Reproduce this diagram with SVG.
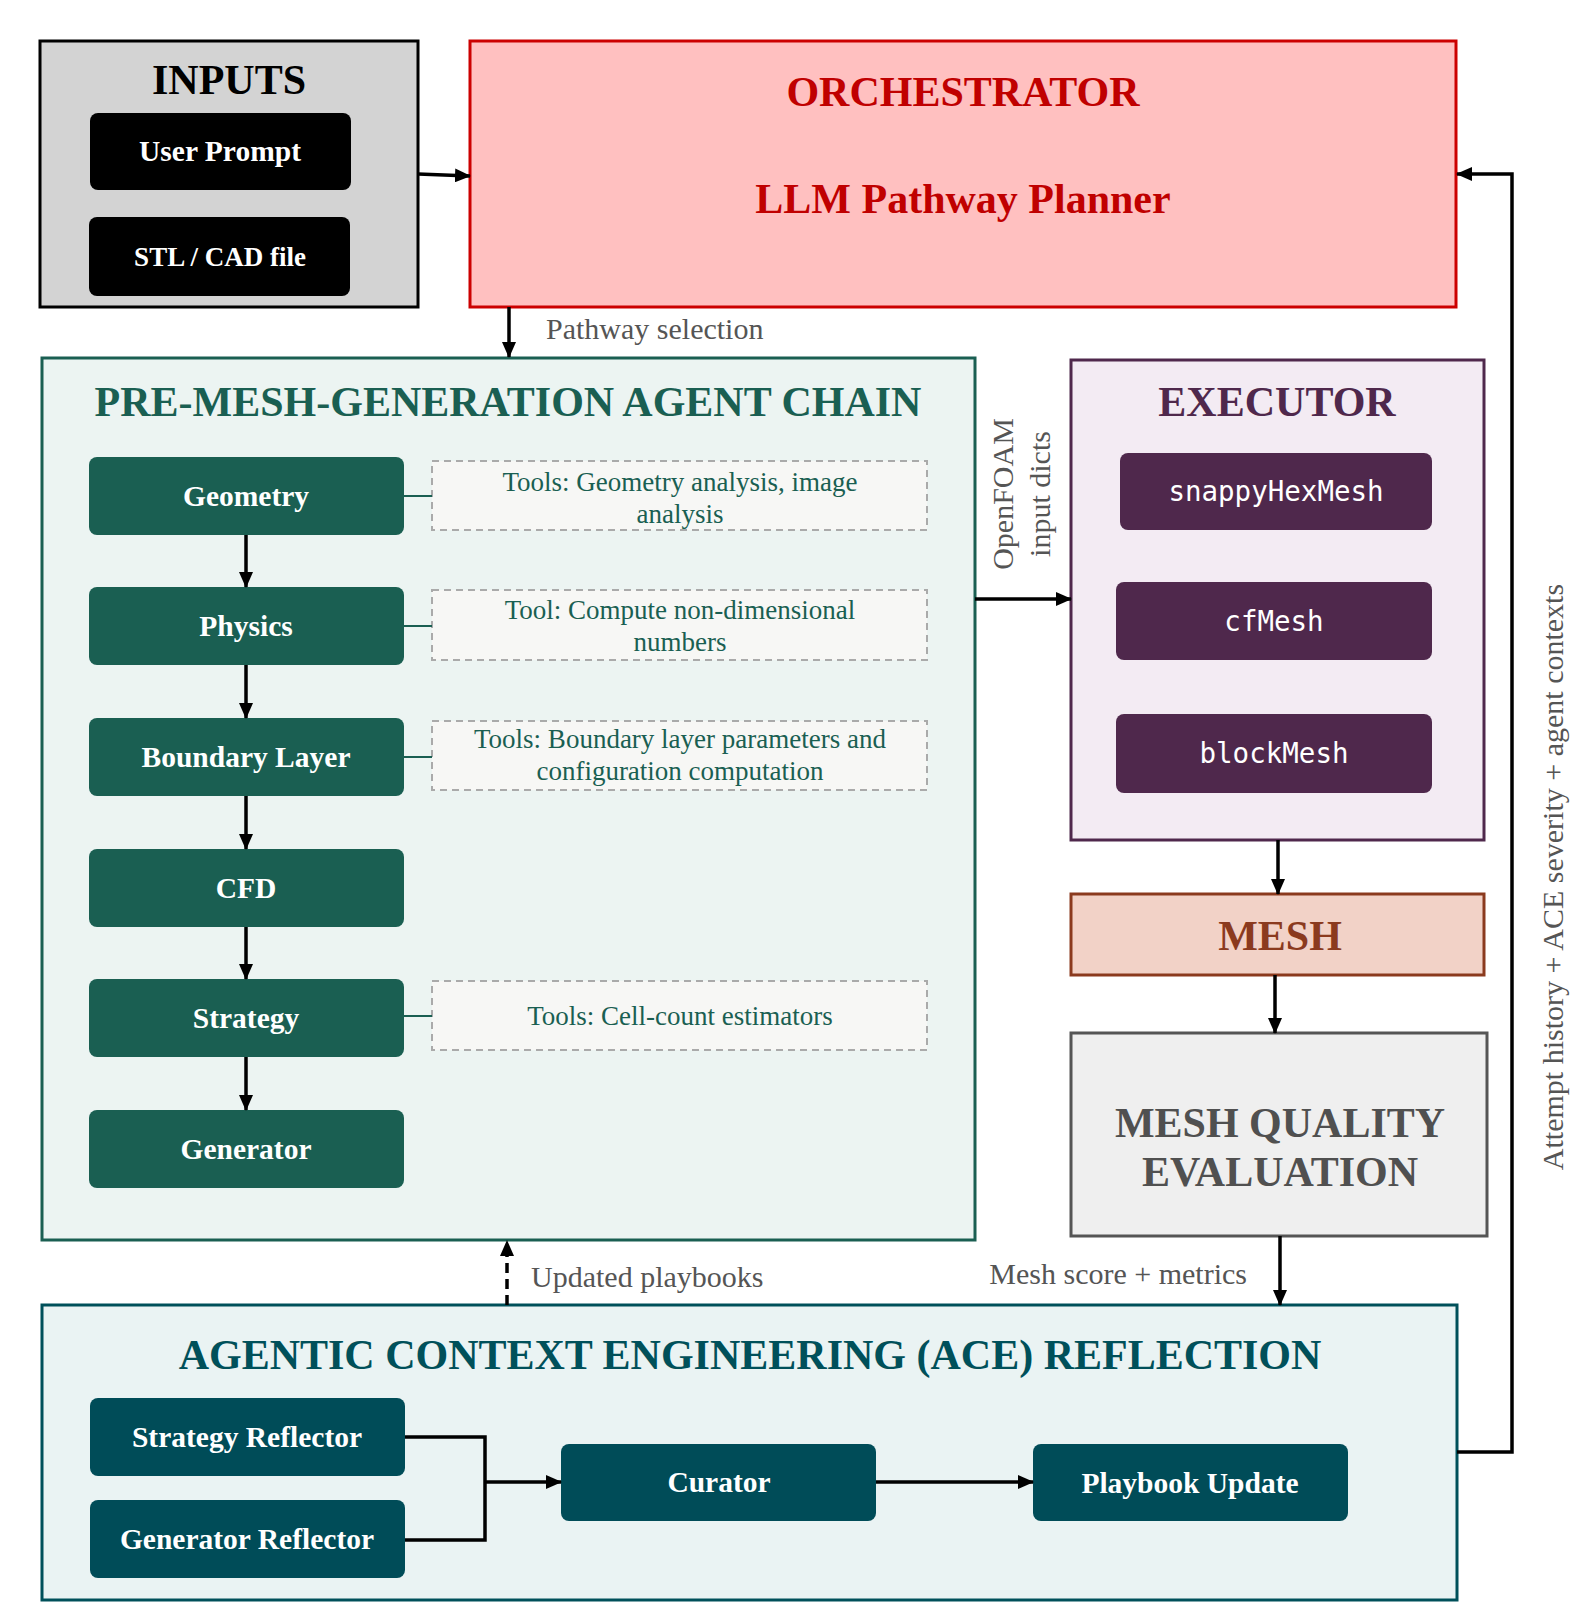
<svg xmlns="http://www.w3.org/2000/svg" width="1582" height="1620" viewBox="0 0 1582 1620">
<defs>
<marker id="ah2" markerWidth="16" markerHeight="14" refX="15" refY="7" orient="auto" markerUnits="userSpaceOnUse" viewBox="0 0 16 14"><path d="M0,0 L16,7 L0,14 z" fill="#000"/></marker>
</defs>
<style>
text{font-family:"Liberation Serif","Times New Roman",serif;text-anchor:middle}
.t{font-weight:bold;font-size:42px}
.b{font-weight:bold;font-size:29.5px;fill:#fff}
.m{font-family:"DejaVu Sans Mono","Liberation Mono",monospace;font-size:27.5px;fill:#fff}
.tool{font-size:27px;fill:#1a5f52}
.lbl{font-size:30px;fill:#555}
.g{fill:#1a5f52}
.tb{fill:#f7f7f5;stroke:#aaa;stroke-width:2;stroke-dasharray:7,5}
.c{stroke:#000;stroke-width:3.5;fill:none}
</style>
<g id="inputs">
<rect x="40" y="41" width="378" height="266" fill="#d3d3d3" stroke="#000" stroke-width="3"/>
<text class="t" x="229" y="94">INPUTS</text>
<rect x="90" y="113" width="261" height="77" rx="8" fill="#000"/>
<text class="b" x="220" y="161">User Prompt</text>
<rect x="89" y="217" width="261" height="79" rx="8" fill="#000"/>
<text class="b" x="220" y="266" style="font-size:27px">STL / CAD file</text>
</g>
<g id="orchestrator">
<rect x="470" y="41" width="986" height="266" fill="#ffc0c0" stroke="#cc0000" stroke-width="3"/>
<text class="t" x="963" y="106" fill="#c00000">ORCHESTRATOR</text>
<text class="t" x="963" y="213" fill="#c00000">LLM Pathway Planner</text>
</g>
<g id="premesh">
<rect x="42" y="358" width="933" height="882" fill="#ecf4f2" stroke="#1a5f52" stroke-width="3"/>
<text class="t g" x="508" y="416">PRE-MESH-GENERATION AGENT CHAIN</text>
</g>
<g id="geometry"><rect class="g" x="89" y="457" width="315" height="78" rx="8"/><text class="b" x="246" y="506">Geometry</text></g>
<g id="physics"><rect class="g" x="89" y="587" width="315" height="78" rx="8"/><text class="b" x="246" y="636">Physics</text></g>
<g id="boundary"><rect class="g" x="89" y="718" width="315" height="78" rx="8"/><text class="b" x="246" y="767">Boundary Layer</text></g>
<g id="cfd"><rect class="g" x="89" y="849" width="315" height="78" rx="8"/><text class="b" x="246" y="898">CFD</text></g>
<g id="strategy"><rect class="g" x="89" y="979" width="315" height="78" rx="8"/><text class="b" x="246" y="1028">Strategy</text></g>
<g id="generator"><rect class="g" x="89" y="1110" width="315" height="78" rx="8"/><text class="b" x="246" y="1159">Generator</text></g>
<g id="tools">
<rect class="tb" x="432" y="461" width="495" height="69"/>
<text class="tool" x="680" y="491">Tools: Geometry analysis, image</text>
<text class="tool" x="680" y="523">analysis</text>
<rect class="tb" x="432" y="590" width="495" height="70"/>
<text class="tool" x="680" y="619">Tool: Compute non-dimensional</text>
<text class="tool" x="680" y="651">numbers</text>
<rect class="tb" x="432" y="721" width="495" height="69"/>
<text class="tool" x="680" y="748">Tools: Boundary layer parameters and</text>
<text class="tool" x="680" y="780">configuration computation</text>
<rect class="tb" x="432" y="981" width="495" height="69"/>
<text class="tool" x="680" y="1025">Tools: Cell-count estimators</text>
</g>
<g id="executor">
<rect x="1071" y="360" width="413" height="480" fill="#f3ebf3" stroke="#4f284c" stroke-width="3"/>
<text class="t" x="1277" y="416" fill="#4f284c">EXECUTOR</text>
<rect x="1120" y="453" width="312" height="77" rx="8" fill="#4f284c"/>
<text class="m" x="1276" y="501">snappyHexMesh</text>
<rect x="1116" y="582" width="316" height="78" rx="8" fill="#4f284c"/>
<text class="m" x="1274" y="631">cfMesh</text>
<rect x="1116" y="714" width="316" height="79" rx="8" fill="#4f284c"/>
<text class="m" x="1274" y="763">blockMesh</text>
</g>
<g id="mesh">
<rect x="1071" y="894" width="413" height="81" fill="#f2d2c7" stroke="#8b3a1e" stroke-width="3"/>
<text class="t" x="1280" y="950" fill="#8b3a1e">MESH</text>
</g>
<g id="quality">
<rect x="1071" y="1033" width="416" height="203" fill="#efefef" stroke="#555" stroke-width="3"/>
<text class="t" x="1280" y="1137" fill="#505050">MESH QUALITY</text>
<text class="t" x="1280" y="1186" fill="#505050">EVALUATION</text>
</g>
<g id="ace">
<rect x="42" y="1305" width="1415" height="295" fill="#eaf3f3" stroke="#00505a" stroke-width="3"/>
<text class="t" x="750" y="1369" fill="#00505a">AGENTIC CONTEXT ENGINEERING (ACE) REFLECTION</text>
</g>
<g id="strategyReflector"><rect x="90" y="1398" width="315" height="78" rx="8" fill="#004c58"/><text class="b" x="247" y="1447">Strategy Reflector</text></g>
<g id="generatorReflector"><rect x="90" y="1500" width="315" height="78" rx="8" fill="#004c58"/><text class="b" x="247" y="1549">Generator Reflector</text></g>
<g id="curator"><rect x="561" y="1444" width="315" height="77" rx="8" fill="#004c58"/><text class="b" x="719" y="1492">Curator</text></g>
<g id="playbook"><rect x="1033" y="1444" width="315" height="77" rx="8" fill="#004c58"/><text class="b" x="1190" y="1493">Playbook Update</text></g>
<g id="connectors">
<line class="c" x1="418" y1="174" x2="470" y2="176" marker-end="url(#ah2)"/>
<line class="c" x1="509" y1="307" x2="509" y2="357" marker-end="url(#ah2)"/>
<text class="lbl" x="546" y="339" style="text-anchor:start">Pathway selection</text>
<g stroke="#1a5f52" stroke-width="2">
<line x1="404" y1="496" x2="432" y2="496"/><line x1="404" y1="626" x2="432" y2="626"/>
<line x1="404" y1="757" x2="432" y2="757"/><line x1="404" y1="1016" x2="432" y2="1016"/>
</g>
<line class="c" x1="246" y1="535" x2="246" y2="587" marker-end="url(#ah2)"/>
<line class="c" x1="246" y1="665" x2="246" y2="718" marker-end="url(#ah2)"/>
<line class="c" x1="246" y1="796" x2="246" y2="849" marker-end="url(#ah2)"/>
<line class="c" x1="246" y1="927" x2="246" y2="979" marker-end="url(#ah2)"/>
<line class="c" x1="246" y1="1057" x2="246" y2="1110" marker-end="url(#ah2)"/>
<line class="c" x1="975" y1="599" x2="1071" y2="599" marker-end="url(#ah2)"/>
<text class="lbl" transform="translate(1013,494) rotate(-90)">OpenFOAM</text>
<text class="lbl" transform="translate(1050,494) rotate(-90)">input dicts</text>
<line class="c" x1="1278" y1="840" x2="1278" y2="894" marker-end="url(#ah2)"/>
<line class="c" x1="1275" y1="975" x2="1275" y2="1033" marker-end="url(#ah2)"/>
<line class="c" x1="1280" y1="1236" x2="1280" y2="1305" marker-end="url(#ah2)"/>
<text class="lbl" x="1247" y="1284" style="text-anchor:end">Mesh score + metrics</text>
<line class="c" x1="507" y1="1305" x2="507" y2="1241" stroke-dasharray="10,6" marker-end="url(#ah2)"/>
<text class="lbl" x="531" y="1287" style="text-anchor:start">Updated playbooks</text>
<polyline class="c" points="405,1437 485,1437 485,1540 405,1540"/>
<line class="c" x1="485" y1="1482" x2="561" y2="1482" marker-end="url(#ah2)"/>
<line class="c" x1="876" y1="1482" x2="1033" y2="1482" marker-end="url(#ah2)"/>
<polyline class="c" points="1457,1452 1512,1452 1512,174 1457,174" marker-end="url(#ah2)"/>
<text class="lbl" transform="translate(1563,877) rotate(-90)">Attempt history + ACE severity + agent contexts</text>
</g>
</svg>
